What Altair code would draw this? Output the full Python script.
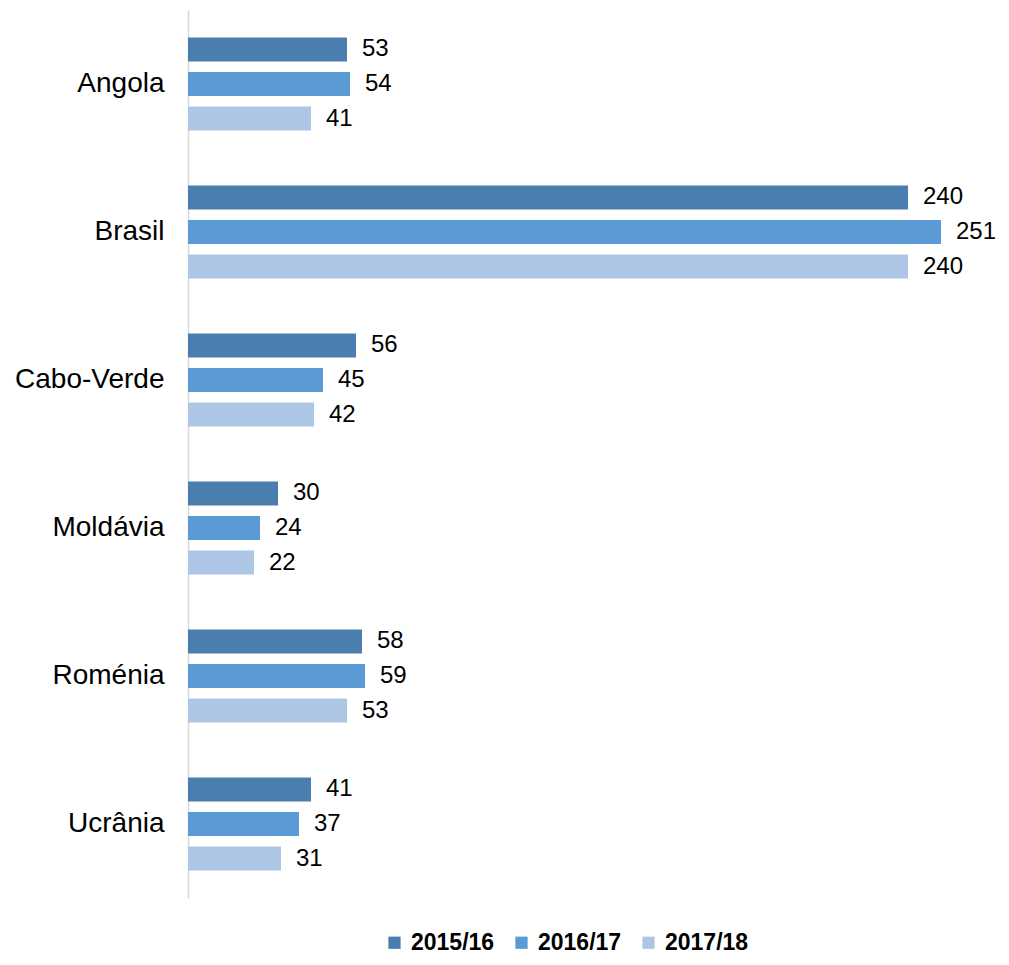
import altair as alt
import pandas as pd

countries = ["Angola", "Brasil", "Cabo-Verde", "Moldávia", "Roménia", "Ucrânia"]
years = ["2015/16", "2016/17", "2017/18"]
v_2015 = [53, 240, 56, 30, 58, 41]
v_2016 = [54, 251, 45, 24, 59, 37]
v_2017 = [41, 240, 42, 22, 53, 31]
colors = ["#4A7EAF", "#5B9BD5", "#ADC6E5"]

rows = []
for i, c in enumerate(countries):
    for y, vals in zip(years, [v_2015, v_2016, v_2017]):
        rows.append({"país": c, "ano": y, "valor": vals[i]})
df = pd.DataFrame(rows)

FONT = "Liberation Sans, Arial, sans-serif"

y_enc = alt.Y("país:N", sort=countries, title=None,
              scale=alt.Scale(paddingInner=0.3, paddingOuter=0.15),
              axis=alt.Axis(labelFontSize=28, labelFont=FONT, labelColor="#000000",
                            labelPadding=24, ticks=False, domainColor="#D9D9D9",
                            domainWidth=1.5, grid=False))
x_enc = alt.X("valor:Q", title=None,
              scale=alt.Scale(domain=[0, 255], nice=False),
              axis=None)
yoff = alt.YOffset("ano:N", sort=years,
                   scale=alt.Scale(paddingInner=0.3, paddingOuter=0.15))

bars = alt.Chart(df).mark_bar().encode(
    y=y_enc, x=x_enc, yOffset=yoff,
    color=alt.Color("ano:N", sort=years,
                    scale=alt.Scale(domain=years, range=colors),
                    legend=alt.Legend(title=None, orient="none", direction="horizontal",
                                      legendX=195, legendY=921,
                                      symbolType="square", symbolSize=150,
                                      symbolStrokeWidth=0,
                                      labelFontSize=23, labelFont=FONT,
                                      labelFontWeight="bold", labelColor="#000000",
                                      labelOffset=5, columnPadding=15)),
)

labels = alt.Chart(df).mark_text(align="left", baseline="middle", dx=15,
                                 fontSize=24, font=FONT, color="#000000").encode(
    y=alt.Y("país:N", sort=countries), x="valor:Q", yOffset=alt.YOffset("ano:N", sort=years),
    text="valor:Q",
)

chart = alt.layer(bars, labels).properties(
    width=765, height=888,
    autosize=alt.AutoSizeParams(type="none"),
    padding={"left": 180, "top": 2, "right": 46, "bottom": 59},
).configure_view(stroke=None)

chart.save("out.html", embed_options={"renderer": "svg", "actions": False})
